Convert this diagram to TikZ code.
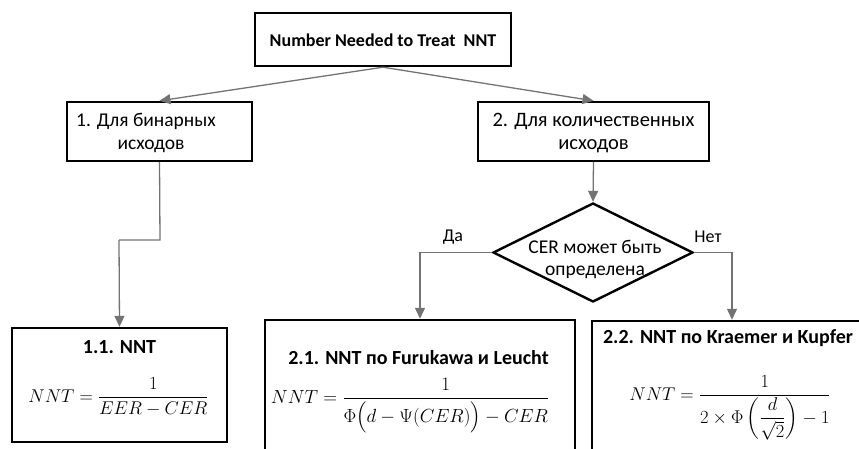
\documentclass[tikz,border=0pt]{standalone}
\usepackage{fix-cm}
\usepackage{amsmath}
\usepackage{fontspec}
\setmainfont{Carlito}
\usetikzlibrary{shapes.geometric,arrows.meta}
\begin{document}
\begin{tikzpicture}[x=1pt,y=-1pt,
  boxs/.style={draw=black,line width=2.4pt,inner sep=0pt},
  conn/.style={draw=gray!90!black,line width=1.3pt,-{Triangle[width=10pt,length=11pt]}},
  plainconn/.style={draw=gray!90!black,line width=1.3pt},
  txt/.style={inner sep=0pt,font=\fontsize{19.5}{23}\selectfont,align=center},
  btxt/.style={inner sep=0pt,font=\fontsize{20}{24}\selectfont\bfseries},
  mth/.style={inner sep=0pt,anchor=base,font=\fontsize{18.5}{22}\selectfont}]
\path[use as bounding box] (0,0) rectangle (859,448);
\clip (0,0) rectangle (859,448);
% boxes
\node[boxs,minimum width=256pt,minimum height=53pt] (top) at (383,39.5) {};
\node[inner sep=0pt,font=\fontsize{18}{21}\selectfont\bfseries] (toptxt) at (383,40) {Number Needed to Treat\ \ NNT};
\node[boxs,minimum width=185pt,minimum height=59pt] (b1) at (159.5,131.5) {};
\node[txt] (b1t) at (146,133) {1. Для бинарных\\\hspace*{10pt}исходов};
\node[boxs,minimum width=231pt,minimum height=59pt] (b2) at (593.5,131.5) {};
\node[txt,font=\fontsize{20.5}{23}\selectfont] (b2t) at (593.5,133) {2. Для количественных\\исходов};
\node[draw=black,line width=2.4pt,diamond,minimum width=200pt,minimum height=99pt,inner sep=0pt] (d) at (593,252.5) {};
\node[txt,font=\fontsize{19.5}{22}\selectfont] (dt) at (595,259) {CER может быть\\определена};
\node[boxs,minimum width=215pt,minimum height=114pt] (b11) at (119.5,385) {};
\node[btxt] (b11t) at (119.5,347) {1.1. NNT};
\node[mth] (b11f) at (118.5,402) {$\displaystyle NNT=\frac{1}{EER-CER}$};
\node[boxs,minimum width=310pt,minimum height=140pt] (b21) at (420,390) {};
\node[btxt] (b21t) at (418.5,358) {2.1. NNT по Furukawa и Leucht};
\node[mth,font=\fontsize{19}{23}\selectfont] (b21f) at (410,403) {$\displaystyle NNT=\frac{1}{\Phi\Bigl(d-\Psi(CER)\Bigr)-CER}$};
\node[boxs,minimum width=300pt,minimum height=140pt] (b22) at (742,391) {};
\node[btxt] (b22t) at (728,338) {2.2. NNT по Kraemer и Kupfer};
\node[mth] (b22f) at (730,400) {$\displaystyle NNT=\frac{1}{2\times\Phi\left(\dfrac{d}{\sqrt{2}}\right)-1}$};
% coordinates
\coordinate (c1) at (160,240);
\coordinate (c2) at (119,240);
\coordinate (cl) at (420,252.5);
\coordinate (cr) at (732,252.5);
% connectors
\draw[conn] (top.south) -- (b1.north);
\draw[conn] (top.south) -- (b2.north);
\draw[plainconn] (b1.south) -- (c1) -- (c2);
\draw[conn] (c2) -- (b11.north);
\draw[conn] (b2.south) -- (d.north);
\draw[conn] (d.west) -- (cl) -- (cl |- b21.north);
\draw[conn] (d.east) -- (cr) -- (cr |- b22.north);
\node[txt,font=\fontsize{18}{22}\selectfont] (da) at (453,237) {Да};
\node[txt,font=\fontsize{18}{22}\selectfont] (net) at (708,237) {Нет};
\end{tikzpicture}
\end{document}
